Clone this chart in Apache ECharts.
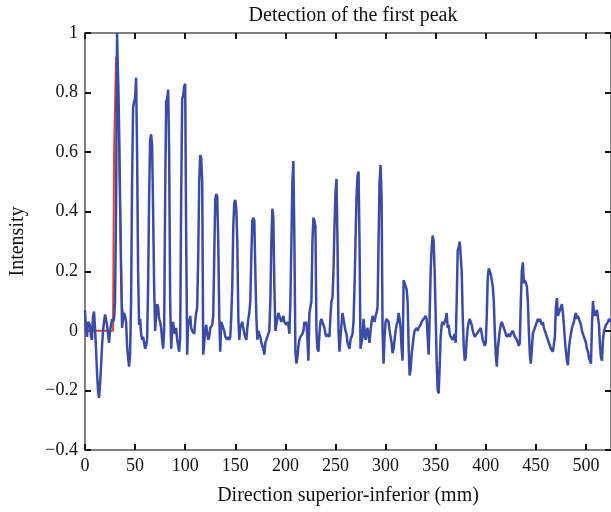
<!DOCTYPE html>
<html>
<head>
<meta charset="utf-8">
<script src="https://cdn.jsdelivr.net/npm/echarts@6/dist/echarts.min.js"></script>
<style>html,body{margin:0;padding:0;background:#fff}#c{width:611px;height:512px}</style>
</head>
<body>
<div id="c"></div>
<script>
// Blue intensity profile, one sample per mm starting at 0 mm
const intensity = [
0.07,0.0,-0.02,0.03,0.03,0.02,-0.02,-0.03,0.05,0.065,
0.01,-0.06,-0.14,-0.2,-0.225,-0.18,-0.12,-0.05,0.0,0.03,
0.055,0.05,0.02,-0.01,-0.04,0.0,0.02,0.04,0.03,0.04,
0.1,0.4,1.0,0.85,0.69,0.45,0.2,0.01,0.04,0.06,
0.05,0.03,-0.05,-0.09,-0.12,-0.08,0.1,0.5,0.75,0.77,
0.78,0.85,0.6,0.2,0.02,0.04,-0.01,-0.03,-0.02,-0.04,
-0.06,-0.05,-0.03,0.15,0.45,0.64,0.66,0.62,0.4,0.15,
0.0,0.05,0.09,0.08,0.04,0.03,0.01,-0.03,-0.06,0.0,
0.45,0.77,0.78,0.81,0.6,0.1,-0.06,0.0,0.03,0.0,
-0.01,0.01,-0.03,-0.05,-0.07,-0.02,0.45,0.78,0.79,0.82,
0.83,0.3,-0.08,0.04,0.02,0.05,0.01,0.0,0.0,-0.01,
0.03,0.06,0.08,0.25,0.5,0.59,0.58,0.5,-0.08,-0.04,
0.0,0.02,-0.01,-0.03,-0.02,0.01,0.01,0.02,0.05,0.25,
0.44,0.46,0.45,0.3,0.05,-0.07,0.03,0.02,0.01,0.0,
-0.02,-0.02,-0.03,-0.02,-0.03,-0.02,0.05,0.15,0.35,0.43,
0.44,0.41,0.3,0.05,-0.03,0.01,0.02,0.03,0.01,-0.01,
-0.02,-0.03,0.01,0.04,0.06,0.1,0.25,0.37,0.38,0.37,
0.2,0.05,-0.03,0.0,-0.01,-0.02,-0.04,-0.05,-0.06,-0.08,
-0.04,-0.03,-0.02,-0.01,0.0,0.1,0.3,0.41,0.38,0.15,
0.0,0.02,0.04,0.06,0.05,0.04,0.03,0.04,0.05,0.03,
0.03,0.02,0.03,0.02,-0.01,0.1,0.3,0.5,0.57,0.3,
-0.07,-0.11,-0.09,-0.05,-0.03,-0.02,-0.02,-0.01,0.0,0.03,
0.02,0.03,-0.03,-0.1,0.06,0.08,0.1,0.3,0.38,0.37,
0.35,0.0,-0.06,-0.07,-0.01,0.03,0.04,0.03,0.02,0.01,
-0.01,-0.02,-0.01,-0.01,-0.02,0.05,0.1,0.11,0.2,0.35,
0.46,0.51,0.3,0.0,-0.07,-0.02,0.02,0.06,0.04,0.02,
0.0,-0.01,-0.04,-0.05,-0.06,-0.03,-0.02,-0.01,0.03,0.15,
0.3,0.45,0.52,0.535,0.3,-0.06,-0.04,-0.02,0.04,0.0,
-0.03,0.0,0.01,-0.02,-0.04,0.0,0.03,0.05,0.04,0.03,
0.05,0.06,0.08,0.3,0.5,0.557,0.45,0.0,-0.11,-0.02,
0.03,0.04,0.04,0.03,0.0,-0.02,-0.04,-0.075,-0.06,-0.03,
0.0,0.02,0.03,0.06,0.04,0.01,-0.06,-0.1,0.17,0.16,
0.15,0.14,0.1,-0.05,-0.15,-0.13,-0.08,-0.05,-0.02,0.0,
0.0,0.01,0.0,0.01,0.01,0.02,0.03,0.03,0.04,0.04,
0.05,0.04,-0.02,-0.08,0.05,0.2,0.28,0.32,0.3,0.2,
0.05,-0.1,-0.2,-0.21,-0.12,-0.02,0.02,0.03,0.02,0.03,
0.04,0.06,0.01,0.02,-0.01,-0.02,-0.02,-0.03,-0.02,-0.01,
-0.04,0.1,0.27,0.28,0.3,0.3,0.2,0.05,-0.05,-0.1,
-0.09,-0.03,0.01,0.03,0.04,0.03,0.02,0.0,-0.01,-0.02,
-0.02,-0.01,-0.01,0.0,0.0,0.01,-0.01,-0.03,-0.04,-0.05,
-0.04,0.05,0.18,0.21,0.2,0.19,0.17,0.15,0.1,0.0,
-0.08,-0.12,-0.06,-0.03,0.0,0.02,0.03,0.03,0.01,0.0,
-0.01,-0.02,-0.02,-0.01,-0.02,-0.01,-0.01,0.0,-0.01,-0.02,
-0.02,-0.03,-0.04,-0.05,-0.04,0.1,0.2,0.23,0.16,0.17,
0.16,0.15,0.1,0.0,-0.08,-0.11,-0.06,-0.01,0.0,0.01,
0.02,0.03,0.04,0.03,0.04,0.03,0.02,0.03,0.01,0.0,
-0.01,-0.02,-0.03,-0.04,-0.05,-0.06,-0.06,-0.07,-0.07,-0.02,
0.08,0.11,0.05,0.06,0.07,0.08,0.09,0.06,0.02,-0.03,
-0.07,-0.1,-0.115,-0.06,-0.03,-0.01,0.01,0.02,0.03,0.05,
0.06,0.04,0.05,0.04,0.03,0.02,0.0,-0.01,-0.01,-0.03,
-0.04,-0.06,-0.07,-0.09,-0.1,-0.11,0.02,0.1,0.06,0.05,
0.06,0.07,0.075,0.02,-0.05,-0.09,-0.1,-0.03,0.0,0.01,
0.02,0.02,0.03,0.04,0.035,0.03
];
// Red detected-first-peak trace
const peakX = [0, 28, 29, 31, 33, 35, 37, 38];
const peakY = [0, 0, 0.6, 0.92, 0.85, 0.4, 0.08, 0.06];

const xTicks = [0, 50, 100, 150, 200, 250, 300, 350, 400, 450, 500];
const yTickValues = [-0.4, -0.2, 0, 0.2, 0.4, 0.6, 0.8, 1];
const yTickLabels = ['\u22120.4', '\u22120.2', '0', '0.2', '0.4', '0.6', '0.8', '1'];

const blueData = intensity.map((v, i) => [i, v]);
const redData = peakX.map((x, i) => [x, peakY[i]]);

const FONT = 'Liberation Serif';
const axisLineStyle = { color: '#555', width: 1.5 };
const tickStyle = { color: '#111', width: 2 };

const chart = echarts.init(document.getElementById('c'));
chart.setOption({
  animation: false,
  backgroundColor: '#fff',
  title: {
    text: 'Detection of the first peak',
    left: 348, top: 1, textAlign: 'center',
    textStyle: { fontFamily: FONT, fontSize: 20, fontWeight: 'normal', color: '#111' }
  },
  grid: { left: 85, right: 0, top: 33, bottom: 62, containLabel: false, outerBoundsMode: 'none' },
  xAxis: [{
    type: 'value', min: 0, max: 525, interval: 50,
    axisLine: { show: true, onZero: false, lineStyle: axisLineStyle },
    axisTick: { show: true, inside: true, length: 6, lineStyle: tickStyle },
    axisLabel: { showMaxLabel: false, fontFamily: FONT, fontSize: 18, color: '#111', margin: 7,
      formatter: v => xTicks.includes(v) ? String(v) : '' },
    splitLine: { show: false },
    name: 'Direction superior-inferior (mm)', nameLocation: 'middle', nameGap: 36,
    nameTextStyle: { fontFamily: FONT, fontSize: 20, color: '#111' }
  }, {
    type: 'value', min: 0, max: 525, interval: 50, position: 'top',
    axisLine: { show: true, onZero: false, lineStyle: axisLineStyle },
    axisTick: { show: true, inside: true, length: 6, lineStyle: tickStyle },
    axisLabel: { show: false }, splitLine: { show: false }
  }],
  yAxis: [{
    type: 'value', min: -0.4, max: 1, interval: 0.2,
    axisLine: { show: true, onZero: false, lineStyle: axisLineStyle },
    axisTick: { show: true, inside: true, length: 6, lineStyle: tickStyle },
    axisLabel: { fontFamily: FONT, fontSize: 18, color: '#111', margin: 7,
      formatter: v => {
        const k = yTickValues.findIndex(t => Math.abs(t - v) < 1e-6);
        return k >= 0 ? yTickLabels[k] : '';
      } },
    splitLine: { show: false },
    name: 'Intensity', nameLocation: 'middle', nameGap: 57,
    nameTextStyle: { fontFamily: FONT, fontSize: 20, color: '#111' }
  }, {
    type: 'value', min: -0.4, max: 1, interval: 0.2, position: 'right',
    axisLine: { show: true, onZero: false, lineStyle: axisLineStyle },
    axisTick: { show: true, inside: true, length: 6, lineStyle: tickStyle },
    axisLabel: { show: false }, splitLine: { show: false }
  }],
  series: [{
    type: 'line', data: redData, xAxisIndex: 0, yAxisIndex: 0,
    showSymbol: false, symbol: 'none', z: 2,
    lineStyle: { color: '#e8402a', width: 2 }
  }, {
    type: 'line', data: blueData, xAxisIndex: 0, yAxisIndex: 0,
    showSymbol: false, symbol: 'none', z: 3,
    lineStyle: { color: '#3a4ca8', width: 2.5 }
  }]
});
</script>
</body>
</html>
